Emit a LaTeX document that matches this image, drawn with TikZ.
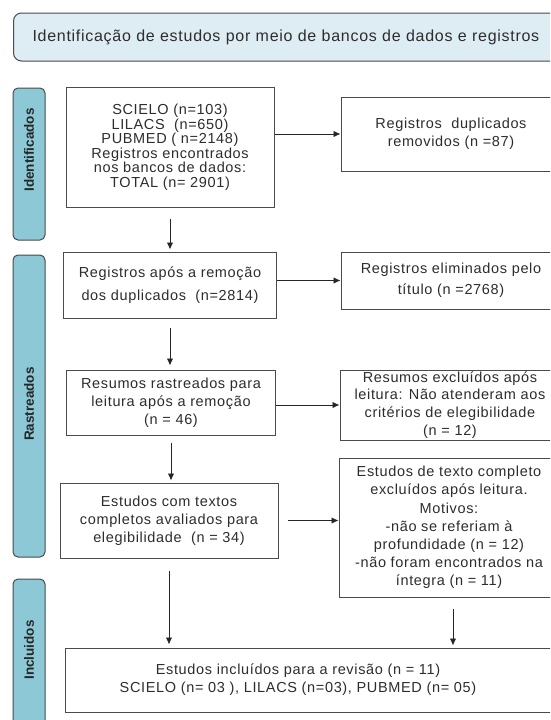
\documentclass[tikz,border=0pt]{standalone}
\usepackage{fontspec}
\setmainfont{Liberation Sans}[LetterSpace=4.5]
\newfontfamily\sidefont{Liberation Sans}
\usepackage{xcolor}
\usepackage{tikz}
\usetikzlibrary{arrows.meta}

\definecolor{barblue}{RGB}{140,200,214}
\definecolor{headblue}{RGB}{221,237,243}
\definecolor{txtgray}{RGB}{45,45,45}
\definecolor{linegray}{RGB}{75,75,75}

\tikzset{
    box/.style={draw=linegray, line width=1pt, rectangle, align=center, text=txtgray,
        inner sep=0pt, font=\fontsize{14.5}{17.8}\selectfont},
    sidebar/.style={draw=linegray, line width=1pt, rectangle, rounded corners=5pt,
        fill=barblue, minimum width=32pt},
    sidelabel/.style={rotate=90, text=black!85, font=\sidefont\bfseries\fontsize{13.5}{15}\selectfont},
    arr/.style={-{Latex[length=7pt, width=6.5pt]}, draw=black!85, line width=0.9pt}
}

\begin{document}
\begin{tikzpicture}[x=1pt, y=-1pt]
    \clip (0,0) rectangle (550,720);
    \fill[white] (0,0) rectangle (550,720);

    \node[draw=linegray, line width=1pt, rectangle, rounded corners=8pt, fill=headblue,
        anchor=west, text width=530pt, align=left, inner xsep=19pt, minimum height=48pt,
        text=txtgray, font=\fontsize{16}{18}\selectfont] (head) at (13,37)
        {Identificação de estudos por meio de bancos de dados e registros};

    \node[sidebar, minimum height=152pt] (barid) at (29,164) {};
    \node[sidebar, minimum height=302pt] (barras) at (29,406) {};
    \node[sidebar, minimum height=180pt] (barinc) at (29,669) {};
    \node[sidelabel] (labid) at (29,150) {Identificados};
    \node[sidelabel] (labras) at (29,404) {Rastreados};
    \node[sidelabel] (labinc) at (29,650) {Incluidos};

    \node[box, minimum width=208pt, minimum height=120pt, font=\fontsize{14.5}{14.5}\selectfont] (busca) at (170,147)
        {SCIELO (n=103)\\ LILACS\ \ (n=650)\\ PUBMED ( n=2148)\\ Registros encontrados\\ nos bancos de dados:\\ TOTAL (n= 2901)};
    \node[box, minimum width=220pt, minimum height=74pt] (dup) at (451,134)
        {Registros\ \ duplicados\\ removidos (n =87)};

    \node[box, minimum width=213pt, minimum height=66pt, font=\fontsize{14.5}{23}\selectfont] (semdup) at (170,285)
        {Registros após a remoção\\ dos duplicados\ \ (n=2814)};
    \node[box, minimum width=220pt, minimum height=57pt, font=\fontsize{14.5}{21}\selectfont] (elim) at (451,280.5)
        {Registros eliminados pelo\\ título (n =2768)};

    \node[box, minimum width=209pt, minimum height=65pt] (resumos) at (171,402.5)
        {Resumos rastreados para\\ leitura após a remoção\\ (n = 46)};
    \node[box, minimum width=220pt, minimum height=70pt] (excl) at (450,405)
        {Resumos excluídos após\\ leitura: Não atenderam aos\\ critérios de elegibilidade\\ (n = 12)};

    \node[box, minimum width=218pt, minimum height=75pt] (compl) at (169,520.5)
        {Estudos com textos\\ completos avaliados para\\ elegibilidade\ \ (n = 34)};
    \node[box, minimum width=220pt, minimum height=139pt, font=\fontsize{14.5}{18.2}\selectfont] (full) at (449,527.5)
        {Estudos de texto completo\\ excluídos após leitura.\\ Motivos:\\ -não se referiam à\\ profundidade (n = 12)\\ -não foram encontrados na\\ íntegra (n = 11)};

    \node[box, minimum width=500pt, minimum height=64pt] (incl) at (315,680) {};
    \node[align=center, text=txtgray, inner sep=0pt, font=\fontsize{14.5}{18}\selectfont] (incltxt) at (298,680)
        {Estudos incluídos para a revisão (n = 11)\\ SCIELO (n= 03 ), LILACS (n=03), PUBMED (n= 05)};

    \draw[arr] (busca.east |- dup.west) -- (dup.west);
    \draw[arr, shorten <=11pt, shorten >=2pt] (busca.south) -- (busca.south |- semdup.north);
    \draw[arr] (semdup.east |- elim.west) -- (elim.west);
    \draw[arr, shorten <=9pt, shorten >=4pt] (semdup.south) -- (semdup.south |- resumos.north);
    \draw[arr] (resumos.east |- excl.west) -- (excl.west);
    \draw[arr, shorten <=7pt, shorten >=2pt] (resumos.south) -- (resumos.south |- compl.north);
    \draw[arr, shorten <=9pt] (compl.east) -- (compl.east -| full.west);
    \draw[arr, shorten <=12pt, shorten >=3pt] (compl.south) -- (compl.south |- incl.north);
    \draw[arr, shorten <=11pt, shorten >=3pt] (full.south) ++(4,0) -- ++(0,51);
\end{tikzpicture}
\end{document}
